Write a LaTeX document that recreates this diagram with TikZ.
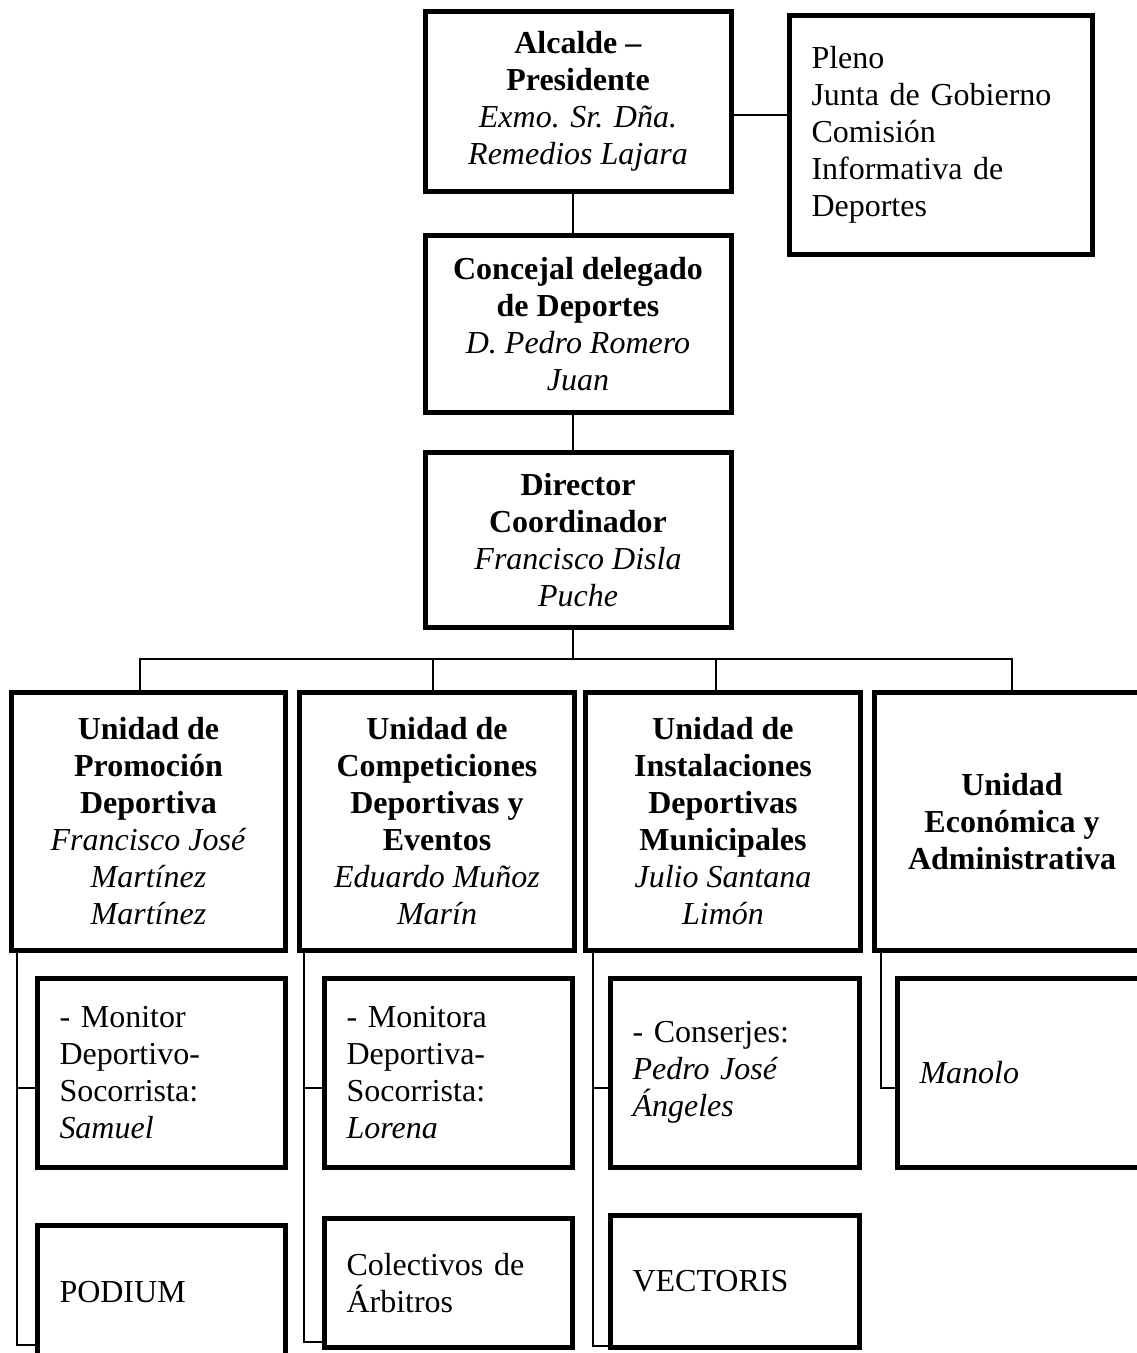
\documentclass[tikz,border=0pt]{standalone}
\usepackage{fontspec}
\setmainfont{Liberation Serif}
\begin{document}
\begin{tikzpicture}[x=1pt,y=-1pt,
  box/.style={draw, line width=5pt, inner sep=0pt, align=center, font=\fontsize{32}{37}\selectfont},
  lbox/.style={draw, line width=5pt, inner xsep=22pt, inner ysep=0pt, align=left, font=\fontsize{32}{37}\selectfont},
  conn/.style={line width=2pt}]
\clip (0,0) rectangle (1137,1353);
\fill[white] (0,0) rectangle (1137,1353);

% top chain
\node[box, minimum width=306pt, minimum height=180pt] (alc) at (578,101.5)
  {\textbf{Alcalde –}\\\textbf{Presidente}\\\textit{Exmo. Sr. Dña.}\\\textit{Remedios Lajara}};
\node[lbox, text width=259pt, minimum height=239pt] (pleno) at (941,135)
  {Pleno\\Junta de Gobierno\\Comisión\\Informativa de\\Deportes};
\node[box, minimum width=306pt, minimum height=177pt] (conc) at (578,324)
  {\textbf{Concejal delegado}\\\textbf{de Deportes}\\\textit{D. Pedro Romero}\\\textit{Juan}};
\node[box, minimum width=306pt, minimum height=175pt] (dir) at (578,540)
  {\textbf{Director}\\\textbf{Coordinador}\\\textit{Francisco Disla}\\\textit{Puche}};

% units
\node[box, minimum width=274pt, minimum height=258pt] (u1) at (148.5,821.5)
  {\textbf{Unidad de}\\\textbf{Promoción}\\\textbf{Deportiva}\\\textit{Francisco José}\\\textit{Martínez}\\\textit{Martínez}};
\node[box, minimum width=275pt, minimum height=258pt] (u2) at (437,821.5)
  {\textbf{Unidad de}\\\textbf{Competiciones}\\\textbf{Deportivas y}\\\textbf{Eventos}\\\textit{Eduardo Muñoz}\\\textit{Marín}};
\node[box, minimum width=275pt, minimum height=258pt] (u3) at (723,821.5)
  {\textbf{Unidad de}\\\textbf{Instalaciones}\\\textbf{Deportivas}\\\textbf{Municipales}\\\textit{Julio Santana}\\\textit{Limón}};
\node[box, minimum width=275pt, minimum height=258pt] (u4) at (1012,821.5)
  {\textbf{Unidad}\\\textbf{Económica y}\\\textbf{Administrativa}};

% sub boxes
\node[lbox, text width=204pt, minimum height=189pt] (s1) at (161.5,1072.5)
  {- Monitor\\Deportivo-\\Socorrista:\\\textit{Samuel}};
\node[lbox, text width=204pt, minimum height=189pt] (s2) at (448.5,1072.5)
  {- Monitora\\Deportiva-\\Socorrista:\\\textit{Lorena}};
\node[lbox, text width=205pt, minimum height=189pt] (s3) at (735,1072.5)
  {- Conserjes:\\\textit{Pedro José}\\\textit{Ángeles}};
\node[lbox, text width=206pt, minimum height=189pt] (s4) at (1022.5,1072.5)
  {\textit{Manolo}};
\node[lbox, text width=204pt, minimum height=134pt] (b1) at (161.5,1292)
  {PODIUM};
\node[lbox, text width=204pt, minimum height=129pt] (b2) at (448.5,1283)
  {Colectivos de\\Árbitros};
\node[lbox, text width=205pt, minimum height=132pt] (b3) at (735,1281.5)
  {VECTORIS};

% connectors
\draw[conn] ([yshift=-13.5pt]alc.east) -- ([yshift=-13.5pt]alc.east -| pleno.west);
\draw[conn] ([xshift=-5pt]alc.south) -- ([xshift=-5pt]alc.south |- conc.north);
\draw[conn] ([xshift=-5pt]conc.south) -- ([xshift=-5pt]conc.south |- dir.north);
\coordinate (barL) at (140,659);
\coordinate (barR) at (1012,659);
\coordinate (bar2) at (433,659);
\coordinate (bar3) at (716,659);
\draw[conn] ([xshift=-5pt]dir.south) -- ([xshift=-5pt]dir.south |- barL);
\draw[conn] ([xshift=-1pt]barL) -- ([xshift=1pt]barR);
\draw[conn] (barL) -- (barL |- u1.north);
\draw[conn] (bar2) -- (bar2 |- u2.north);
\draw[conn] (bar3) -- (bar3 |- u3.north);
\draw[conn] (barR) -- (barR |- u4.north);

\draw[conn] ([xshift=7.5pt]u1.south west) |- ([yshift=-15.5pt]s1.west);
\draw[conn] ([xshift=7.5pt]u1.south west) |- ([yshift=-53pt]b1.west);
\draw[conn] ([xshift=6.5pt]u2.south west) |- ([yshift=-15.5pt]s2.west);
\draw[conn] ([xshift=6.5pt]u2.south west) |- ([yshift=-59pt]b2.west);
\draw[conn] ([xshift=9.5pt]u3.south west) |- ([yshift=-15.5pt]s3.west);
\draw[conn] ([xshift=9.5pt]u3.south west) |- ([yshift=-64.5pt]b3.west);
\draw[conn] ([xshift=8.5pt]u4.south west) |- ([yshift=-15.5pt]s4.west);
\end{tikzpicture}
\end{document}
